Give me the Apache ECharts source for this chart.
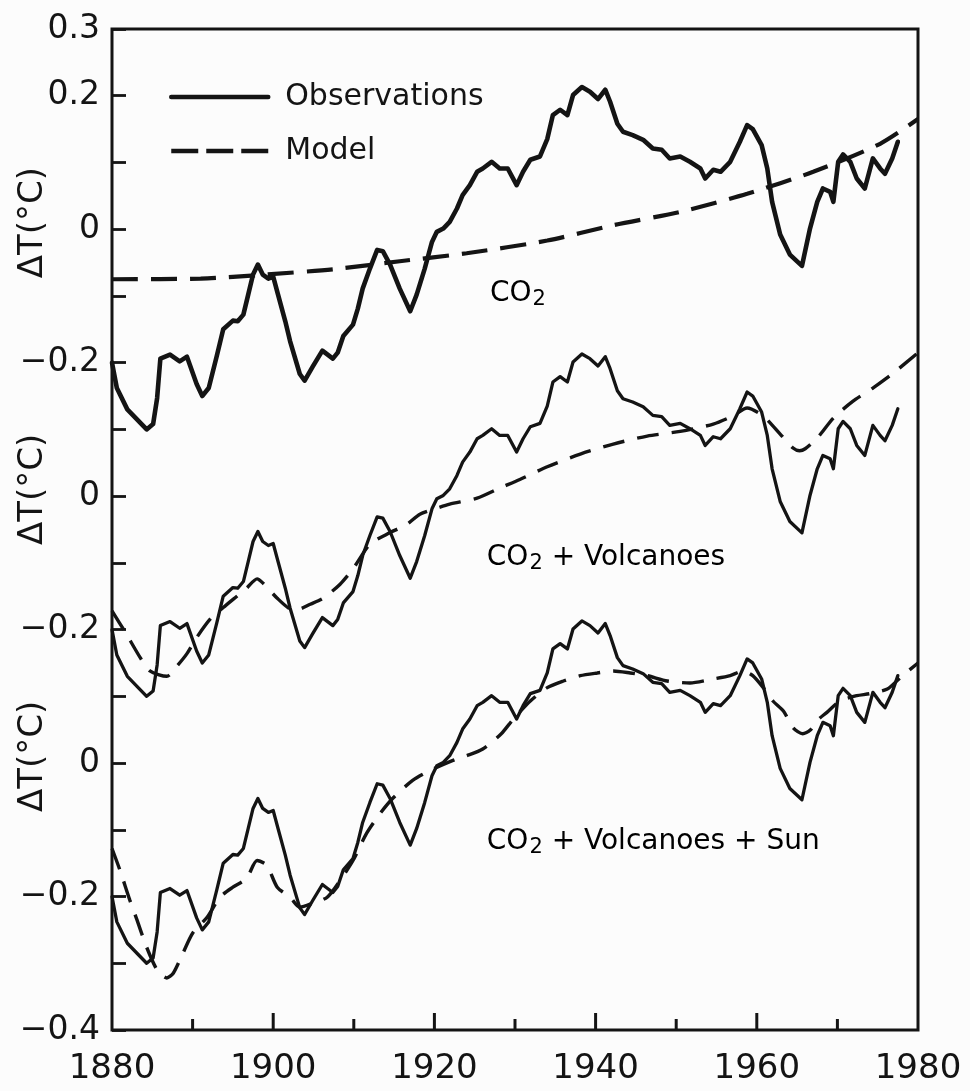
<!DOCTYPE html>
<html><head><meta charset="utf-8">
<script src="https://cdn.jsdelivr.net/npm/echarts@6/dist/echarts.min.js"></script>
<style>html,body{margin:0;padding:0;background:#fcfcfc}#c{width:970px;height:1091px}</style>
</head><body><div id="c"></div>
<script>
// Observed 5-yr smoothed temperature anomaly (same curve drawn in every panel)
const obsYears = [1880.0,1880.6,1881.9,1883.1,1884.3,1885.1,1885.6,1886.0,1887.2,1888.4,1889.3,1890.5,1891.2,1892.0,1893.0,1893.8,1895.0,1895.6,1896.3,1896.9,1897.5,1898.1,1898.7,1899.4,1900.0,1900.6,1901.5,1902.1,1903.3,1903.9,1904.9,1906.1,1907.4,1908.0,1908.7,1909.9,1910.5,1911.1,1912.0,1912.9,1913.6,1914.5,1915.7,1917.0,1917.8,1918.8,1919.7,1920.3,1921.1,1921.9,1922.8,1923.5,1924.4,1925.3,1926.0,1927.1,1928.1,1929.1,1930.2,1931.0,1931.9,1933.1,1934.0,1934.7,1935.6,1936.5,1937.2,1938.3,1939.3,1940.3,1941.2,1941.8,1942.7,1943.4,1944.6,1945.9,1947.1,1948.2,1949.2,1950.5,1951.7,1953.0,1953.6,1954.6,1955.5,1956.7,1957.9,1958.8,1959.5,1960.6,1961.3,1961.9,1962.9,1964.1,1965.6,1966.6,1967.5,1968.2,1969.1,1969.5,1970.1,1970.7,1971.6,1972.4,1973.4,1974.4,1975.3,1975.9,1976.8,1977.5];
const obsTemp = [-0.20,-0.238,-0.270,-0.285,-0.300,-0.292,-0.253,-0.194,-0.188,-0.198,-0.191,-0.232,-0.250,-0.238,-0.190,-0.150,-0.137,-0.138,-0.128,-0.098,-0.068,-0.053,-0.068,-0.074,-0.071,-0.098,-0.138,-0.168,-0.217,-0.227,-0.206,-0.182,-0.194,-0.185,-0.160,-0.143,-0.119,-0.089,-0.059,-0.031,-0.033,-0.053,-0.089,-0.123,-0.098,-0.059,-0.019,-0.004,0.001,0.011,0.031,0.051,0.066,0.086,0.091,0.101,0.091,0.091,0.066,0.086,0.104,0.109,0.135,0.171,0.179,0.171,0.201,0.213,0.206,0.195,0.209,0.191,0.158,0.146,0.141,0.134,0.121,0.119,0.106,0.109,0.101,0.091,0.076,0.089,0.086,0.101,0.131,0.156,0.150,0.126,0.091,0.041,-0.008,-0.038,-0.055,0.001,0.041,0.061,0.056,0.041,0.101,0.112,0.101,0.076,0.061,0.106,0.091,0.083,0.106,0.131];

// Model: CO2 only
const co2Years = [1880,1891,1899,1907.5,1915.7,1924,1934,1942.2,1950.5,1958.8,1967,1975.3,1980];
const co2Model = [-0.075,-0.074,-0.068,-0.060,-0.048,-0.036,-0.017,0.006,0.026,0.053,0.086,0.128,0.165];

// Model: CO2 + Volcanoes
const volcYears = [1880.0,1881.7,1883.5,1884.7,1886.8,1888.1,1889.3,1890.5,1892.2,1893.8,1895.5,1896.7,1898.0,1898.7,1900.5,1902.1,1903.0,1904.6,1906.2,1908.3,1909.9,1912.0,1914.1,1916.6,1918.2,1920.3,1921.9,1925.3,1928.1,1930.6,1934.0,1938.1,1942.2,1946.4,1950.5,1954.6,1957.0,1958.8,1960.8,1962.9,1964.5,1965.3,1966.0,1967.5,1969.5,1971.9,1974.4,1976.9,1980.0];
const volcModel = [-0.172,-0.205,-0.242,-0.262,-0.270,-0.254,-0.236,-0.212,-0.184,-0.167,-0.150,-0.138,-0.124,-0.130,-0.153,-0.169,-0.170,-0.162,-0.153,-0.132,-0.109,-0.072,-0.057,-0.042,-0.027,-0.018,-0.012,-0.003,0.012,0.025,0.044,0.063,0.078,0.090,0.097,0.108,0.120,0.132,0.120,0.093,0.072,0.068,0.071,0.087,0.117,0.142,0.162,0.184,0.215];

// Model: CO2 + Volcanoes + Sun
const sunYears = [1880.0,1881.0,1882.2,1883.1,1884.3,1885.6,1886.8,1887.6,1888.8,1890.0,1891.8,1893.4,1895.0,1896.7,1898.0,1899.2,1900.5,1902.1,1903.3,1904.9,1906.7,1908.3,1909.9,1911.6,1913.3,1914.9,1917.3,1919.5,1922.3,1924.0,1926.0,1928.3,1929.8,1931.9,1934.0,1936.0,1938.1,1940.2,1942.2,1944.3,1946.4,1948.9,1951.7,1954.6,1956.7,1958.3,1959.5,1960.8,1962.0,1963.3,1964.5,1965.7,1966.6,1967.5,1968.7,1970.3,1972.4,1974.0,1976.2,1977.8,1980.0];
const sunModel = [-0.128,-0.161,-0.205,-0.235,-0.276,-0.310,-0.322,-0.315,-0.285,-0.255,-0.231,-0.201,-0.186,-0.173,-0.146,-0.153,-0.186,-0.201,-0.216,-0.210,-0.201,-0.176,-0.146,-0.105,-0.075,-0.052,-0.026,-0.011,0.004,0.011,0.021,0.044,0.066,0.093,0.113,0.123,0.131,0.135,0.138,0.135,0.131,0.123,0.120,0.126,0.131,0.138,0.131,0.113,0.093,0.078,0.053,0.044,0.049,0.064,0.076,0.093,0.101,0.104,0.111,0.128,0.150];

const xTickLabels = ['1880','1900','1920','1940','1960','1980'];
const panelNames = ['CO2', 'CO2 + Volcanoes', 'CO2 + Volcanoes + Sun'];
const panelYLabels = [[0.3,0.2,0,-0.2],[0,-0.2],[0,-0.2,-0.4]];
const panelRanges = [[-1.2,0.3],[-0.8,0.7],[-0.4,1.1]];
const yAxisName = 'ΔT(°C)';
const legendNames = ['Observations','Model'];

const FONT = 'DejaVu Sans';
const INK = '#141414';
const models = [[co2Years,co2Model],[volcYears,volcModel],[sunYears,sunModel]];
const pairs = (xs, ys) => xs.map((x,i)=>[x, ys[i]]);
const fmtY = r => r === 0 ? '0' : (r < 0 ? '\u2212' : '') + Math.abs(r).toFixed(1);

const chart = echarts.init(document.getElementById('c'), null, {renderer:'canvas'});

const yAxes = panelRanges.map((rg,k)=>({
  type:'value', min:rg[0], max:rg[1], interval:0.1, position:'left',
  axisLine:{show:false},
  axisTick:{show:k===2, inside:true, length:14, lineStyle:{color:INK,width:2.8}},
  splitLine:{show:false},
  axisLabel:{
    margin:12, color:INK, fontFamily:FONT, fontSize:33,
    formatter: v => { const r = Math.round(v*10)/10; return panelYLabels[k].some(t=>Math.abs(t-r)<1e-6) ? fmtY(r) : ''; }
  }
}));

const series = [];
for (let k=0;k<3;k++){
  series.push({
    name:legendNames[0], type:'line', xAxisIndex:0, yAxisIndex:k, color:INK,
    data:pairs(obsYears,obsTemp), showSymbol:false, symbol:'none', silent:true,
    itemStyle:{color:INK},
    lineStyle:{color:INK, width:k===0?4.6:3.3, join:'round', cap:'round'}, z:3
  });
  series.push({
    name:legendNames[1], type:'line', xAxisIndex:0, yAxisIndex:k, color:INK,
    data:pairs(models[k][0],models[k][1]), showSymbol:false, symbol:'none', silent:true, smooth:0.25,
    itemStyle:{color:INK},
    lineStyle:{color:INK, width:k===0?4.2:3.4, type:k===0?[26,13]:[22,13]}, z:2
  });
}

chart.setOption({
  animation:false,
  backgroundColor:'#fcfcfc',
  grid:{left:112,right:52,top:29,bottom:61,show:true,borderColor:INK,borderWidth:3,backgroundColor:'transparent'},
  legend:{
    data:[
      {name:legendNames[0], lineStyle:{color:INK, width:4.5, type:'solid'}},
      {name:legendNames[1], lineStyle:{color:INK, width:4.5, type:[27,8]}}
    ],
    orient:'vertical', left:164, top:77, itemWidth:97, itemHeight:14, itemGap:24,
    itemStyle:{opacity:0},
    textStyle:{fontFamily:FONT, fontSize:30, color:INK, padding:[0,0,0,12]}, selectedMode:false
  },
  xAxis:{
    type:'value', min:1880, max:1980, interval:20, position:'bottom',
    axisLine:{show:false, onZero:false},
    axisTick:{show:false},
    splitLine:{show:false},
    axisLabel:{margin:22, color:INK, fontFamily:FONT, fontSize:34,
      formatter:v=> xTickLabels.includes(String(v)) ? String(v) : ''}
  },
  yAxis:yAxes,
  series:series
});

// Panel annotations positioned in each panel's data coordinates
const labelAnchors = [[1926.9,-0.098],[1926.5,-0.094],[1926.5,-0.12]];
const graphics = [];
panelNames.forEach((nm,k)=>{
  const p = chart.convertToPixel({xAxisIndex:0,yAxisIndex:k}, labelAnchors[k]);
  const rest = nm.slice(3);
  graphics.push({
    type:'text', x:p[0], y:p[1],
    style:{
      text:'{m|CO}{s|2}' + (rest ? '{m|'+rest+'}' : ''),
      textVerticalAlign:'middle', textAlign:'left',
      rich:{
        m:{fontFamily:FONT,fontSize:28,color:INK,lineHeight:30,verticalAlign:'top'},
        s:{fontFamily:FONT,fontSize:21,color:INK,lineHeight:20,padding:[16,0,0,1],verticalAlign:'bottom'}
      }
    }
  });
  const z = chart.convertToPixel({xAxisIndex:0,yAxisIndex:k}, [1880, 0.01]);
  graphics.push({
    type:'text', x:33, y:z[1], rotation:Math.PI/2,
    style:{text:yAxisName, fontFamily:FONT, fontSize:34, fill:INK, textAlign:'center', textVerticalAlign:'middle'}
  });
});
// Decade tick marks rising from the frame bottom, placed through the x scale
const yBottom = chart.convertToPixel({yAxisIndex:2}, panelRanges[2][0]);
for (let yr = 1890; yr < 1980; yr += 10) {
  const xp = chart.convertToPixel({xAxisIndex:0}, yr);
  const len = (yr % 20 === 0) ? 17 : 11;
  graphics.push({type:'line', z:100, silent:true,
    shape:{x1:xp, y1:yBottom, x2:xp, y2:yBottom - len},
    style:{stroke:INK, lineWidth:3}});
}
chart.setOption({graphic:graphics});
</script></body></html>
